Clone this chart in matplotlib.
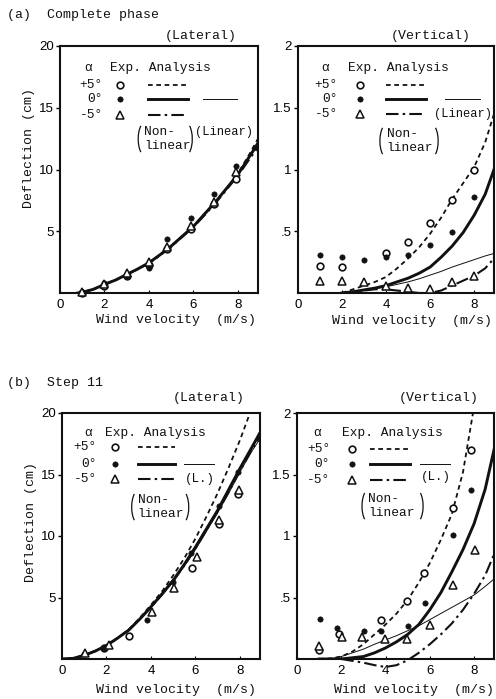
import matplotlib
matplotlib.use('Agg')
import matplotlib.pyplot as plt
from matplotlib.patches import Arc

MONO = 'Liberation Mono'
SANS = 'Liberation Sans'

# ---------------- data ----------------
# (a) complete phase, lateral
a_lat_exp_x = [1, 2, 3, 4, 4.8, 5.9, 6.9, 7.9]
a_lat_exp_p5 = [0.0, 0.6, 1.4, 2.3, 3.6, 5.2, 7.2, 9.2]
a_lat_exp_0 = [0.05, 0.8, 1.4, 2.0, 4.4, 6.1, 8.0, 10.3]
a_lat_exp_m5 = [0.1, 0.7, 1.65, 2.5, 3.7, 5.4, 7.4, 9.8]
a_lat_cx = [0.8, 1.0, 1.5, 2.0, 2.5, 3.0, 3.5, 4.0, 4.5, 5.0, 5.5, 6.0, 6.5, 7.0, 7.5, 8.0, 8.5, 8.9]
a_lat_nl_p5 = [0.0, 0.05, 0.3, 0.7, 1.05, 1.5, 1.95, 2.45, 3.1, 3.8, 4.6, 5.4, 6.4, 7.4, 8.5, 9.7, 11.2, 12.5]
a_lat_nl_0 = [0.0, 0.05, 0.3, 0.7, 1.05, 1.5, 1.95, 2.45, 3.1, 3.8, 4.6, 5.4, 6.4, 7.4, 8.5, 9.6, 11.0, 12.1]
a_lat_nl_m5 = [0.0, 0.05, 0.3, 0.7, 1.05, 1.5, 1.95, 2.4, 3.05, 3.75, 4.55, 5.35, 6.3, 7.3, 8.4, 9.5, 10.8, 11.8]
a_lat_lin = [0.0, 0.05, 0.3, 0.7, 1.05, 1.5, 1.95, 2.45, 3.1, 3.8, 4.6, 5.4, 6.4, 7.4, 8.5, 9.6, 11.1, 12.3]

# (a) complete phase, vertical
a_ver_exp_x = [1, 2, 3, 4, 5, 6, 7, 8]
a_ver_exp_p5_x = [1, 2, 4, 5, 6, 7, 8]
a_ver_exp_p5 = [0.22, 0.21, 0.32, 0.41, 0.57, 0.75, 1.0]
a_ver_exp_0 = [0.31, 0.29, 0.265, 0.29, 0.31, 0.39, 0.49, 0.78]
a_ver_exp_m5 = [0.10, 0.10, 0.09, 0.06, 0.044, 0.035, 0.09, 0.135]
a_ver_cx = [2.0, 2.5, 3.0, 3.5, 4.0, 4.5, 5.0, 5.5, 6.0, 6.5, 7.0, 7.5, 8.0, 8.5, 8.9]
a_ver_nl_p5 = [0.0, 0.03, 0.06, 0.09, 0.13, 0.2, 0.28, 0.37, 0.48, 0.61, 0.76, 0.89, 1.02, 1.22, 1.45]
a_ver_nl_0 = [0.0, 0.01, 0.025, 0.04, 0.06, 0.09, 0.12, 0.16, 0.21, 0.29, 0.38, 0.49, 0.63, 0.8, 1.0]
a_ver_nl_m5 = [0.0, 0.01, 0.02, 0.03, 0.03, 0.02, 0.01, 0.0, 0.0, 0.02, 0.06, 0.1, 0.14, 0.2, 0.28]
a_ver_lin = [0.0, 0.01, 0.02, 0.035, 0.05, 0.07, 0.09, 0.115, 0.145, 0.175, 0.21, 0.24, 0.27, 0.3, 0.32]

# (b) step 11, lateral
b_lat_exp_0_x = [1.0, 1.9, 3.8, 5.0, 5.8, 7.05, 7.9]
b_lat_exp_0 = [0.4, 0.9, 3.2, 6.3, 8.6, 12.4, 15.2]
b_lat_exp_p5_x = [1.9, 3.0, 5.85, 7.05, 7.9]
b_lat_exp_p5 = [0.9, 1.9, 7.4, 11.0, 13.4]
b_lat_exp_m5_x = [1.05, 2.1, 4.05, 5.05, 6.05, 7.05, 7.95]
b_lat_exp_m5 = [0.5, 1.1, 3.8, 5.8, 8.3, 11.3, 13.7]
b_lat_cx = [0.0, 0.5, 1.0, 1.5, 2.0, 2.5, 3.0, 3.5, 4.0, 4.5, 5.0, 5.5, 6.0, 6.5, 7.0, 7.5, 8.0, 8.5, 8.9]
b_lat_nl_0 = [0.0, 0.05, 0.3, 0.65, 1.1, 1.7, 2.35, 3.25, 4.25, 5.3, 6.4, 7.7, 9.1, 10.6, 12.1, 13.8, 15.5, 17.1, 18.4]
b_lat_nl_m5 = [0.0, 0.05, 0.3, 0.65, 1.1, 1.7, 2.35, 3.25, 4.2, 5.25, 6.35, 7.6, 9.0, 10.5, 12.0, 13.6, 15.3, 16.9, 18.1]
b_lat_lin = [0.0, 0.05, 0.3, 0.65, 1.1, 1.7, 2.35, 3.2, 4.2, 5.2, 6.3, 7.55, 8.9, 10.4, 11.9, 13.5, 15.2, 16.8, 17.9]
b_lat_p5_cx = [0.0, 0.5, 1.0, 1.5, 2.0, 2.5, 3.0, 3.5, 4.0, 4.5, 5.0, 5.5, 6.0, 6.5, 7.0, 7.5, 8.0, 8.45]
b_lat_nl_p5 = [0.0, 0.05, 0.3, 0.65, 1.1, 1.7, 2.4, 3.35, 4.4, 5.5, 6.8, 8.2, 9.8, 11.6, 13.5, 15.6, 17.8, 20.0]

# (b) step 11, vertical
b_ver_exp_0_x = [1.02, 1.82, 3.02, 3.8, 5.0, 5.78, 7.04, 7.87]
b_ver_exp_0 = [0.325, 0.25, 0.23, 0.23, 0.27, 0.455, 1.01, 1.375]
b_ver_exp_p5_x = [0.98, 1.88, 3.8, 4.97, 5.75, 7.04, 7.84]
b_ver_exp_p5 = [0.07, 0.205, 0.32, 0.47, 0.70, 1.23, 1.70]
b_ver_exp_m5_x = [0.98, 2.03, 2.93, 3.98, 4.97, 6.02, 7.03, 8.06]
b_ver_exp_m5 = [0.108, 0.18, 0.18, 0.165, 0.165, 0.28, 0.60, 0.89]
b_ver_cx = [1.0, 1.5, 2.0, 2.5, 3.0, 3.5, 4.0, 4.5, 5.0, 5.5, 6.0, 6.5, 7.0, 7.5, 8.0, 8.5, 8.9]
b_ver_nl_0 = [0.0, 0.0, 0.0, 0.01, 0.02, 0.05, 0.09, 0.14, 0.2, 0.28, 0.4, 0.54, 0.71, 0.89, 1.1, 1.38, 1.7]
b_ver_lin = [0.0, 0.0, 0.02, 0.05, 0.08, 0.12, 0.155, 0.19, 0.23, 0.27, 0.32, 0.37, 0.42, 0.47, 0.52, 0.59, 0.65]
b_ver_nl_m5_x = [2.0, 2.5, 3.0, 3.5, 4.0, 4.5, 5.0, 5.5, 6.0, 6.5, 7.0, 7.5, 8.0, 8.5, 8.9]
b_ver_nl_m5 = [0.0, -0.015, -0.03, -0.05, -0.065, -0.05, -0.01, 0.05, 0.12, 0.2, 0.29, 0.4, 0.53, 0.68, 0.85]
b_ver_p5_cx = [1.0, 1.5, 2.0, 2.5, 3.0, 3.5, 4.0, 4.5, 5.0, 5.5, 6.0, 6.5, 7.0, 7.5, 7.95]
b_ver_nl_p5 = [0.0, 0.005, 0.02, 0.06, 0.12, 0.2, 0.28, 0.37, 0.48, 0.62, 0.78, 0.97, 1.18, 1.52, 2.0]

lat_yticks = [5, 10, 15, 20]
lat_ylabels = ['5', '10', '15', '20']
ver_yticks = [0.5, 1, 1.5, 2]
ver_ylabels = ['.5', '1', '1.5', '2']
xticks = [0, 2, 4, 6, 8]
xlabels = ['0', '2', '4', '6', '8']

# ---------------- styles ----------------
INK = '#111111'
STY = {
    'p5': dict(ls=(0, (2.6, 2.0)), lw=1.3, color=INK),
    '0': dict(ls='-', lw=2.1, color=INK),
    'm5': dict(ls=(0, (6, 2, 1.2, 2)), lw=1.5, color=INK),
    'lin': dict(ls='-', lw=0.7, color=INK),
}
MK = {
    'p5': dict(marker='o', ms=4.8, mfc='white', mec=INK, mew=1.2, ls='none'),
    '0': dict(marker='o', ms=3.8, mfc=INK, mec=INK, mew=0.5, ls='none'),
    'm5': dict(marker='^', ms=5.4, mfc='white', mec=INK, mew=1.1, ls='none'),
}

W, H = 496, 699
fig = plt.figure(figsize=(W / 100, H / 100), dpi=100)
fig.patch.set_facecolor('white')


def ax_at(l, t, w, h):
    return fig.add_axes([l / W, 1 - (t + h) / H, w / W, h / H])


def ftext(px, py, s, **kw):
    fig.text(px / W, 1 - py / H, s, fontfamily=MONO, fontsize=9.5, color=INK, **kw)


def style_axes(ax, ylim, yt, yl):
    ax.set_xlim(0, 8.9)
    ax.set_ylim(*ylim)
    ax.set_xticks(xticks)
    ax.set_xticklabels(xlabels)
    ax.set_yticks(yt)
    ax.set_yticklabels(yl)
    for s in ax.spines.values():
        s.set_linewidth(1.5)
        s.set_color(INK)
    ax.tick_params(axis='y', direction='out', length=3, width=1, pad=1.5, labelsize=9.5)
    ax.tick_params(axis='x', direction='in', length=2, width=0.8, pad=4, labelsize=9.5)
    for lab in ax.get_xticklabels() + ax.get_yticklabels():
        lab.set_fontfamily(SANS)


def draw_legend(ax, c):
    T = ax.transAxes
    kw = dict(transform=T, fontfamily=MONO, fontsize=9.3, va='center', color=INK)
    y = c['y']
    ax.text(c['xa'], y[0], 'α', ha='center', **kw)
    ax.text(c['xe'], y[0], 'Exp. Analysis', ha='left', **kw)
    for lab, yy in zip(['+5°', '0°', '-5°'], y[1:]):
        ax.text(c['xr'], yy, lab, ha='right', **kw)
    for key, yy in zip(['p5', '0', 'm5'], y[1:]):
        ax.plot([c['xm']], [yy], transform=T, clip_on=False, **MK[key])
        ax.plot([c['l0'], c['l1']], [yy, yy], transform=T, clip_on=False, **STY[key])
    ax.plot([c['t0'], c['t1']], [y[2], y[2]], transform=T, clip_on=False, **STY['lin'])
    ax.text(c['nx'], c['ny'][0], 'Non-', ha='left', **kw)
    ax.text(c['nx'], c['ny'][1], 'linear', ha='left', **kw)
    my = (c['ny'][0] + c['ny'][1]) / 2
    bw, bh = 0.07, 0.135
    ax.add_patch(Arc((c['b0'] + bw / 2, my), bw, bh, theta1=112, theta2=248,
                     transform=T, lw=0.9, color=INK, clip_on=False))
    ax.add_patch(Arc((c['b1'] - bw / 2, my), bw, bh, theta1=-68, theta2=68,
                     transform=T, lw=0.9, color=INK, clip_on=False))
    ax.text(c['ex'], c['ey'], c['etext'], ha=c.get('eha', 'left'),
            **dict(kw, fontsize=c.get('efs', 9.0)))


# ---------------- (a) lateral ----------------
ax1 = ax_at(60, 46, 198, 247)
ax1.plot(a_lat_cx, a_lat_nl_p5, **STY['p5'])
ax1.plot(a_lat_cx, a_lat_nl_0, **STY['0'])
ax1.plot(a_lat_cx, a_lat_nl_m5, **STY['m5'])
ax1.plot(a_lat_cx, a_lat_lin, **STY['lin'])
ax1.plot(a_lat_exp_x, a_lat_exp_p5, zorder=5, clip_on=False, **MK['p5'])
ax1.plot(a_lat_exp_x, a_lat_exp_0, zorder=5, clip_on=False, **MK['0'])
ax1.plot(a_lat_exp_x, a_lat_exp_m5, zorder=5, clip_on=False, **MK['m5'])
style_axes(ax1, (0, 20), lat_yticks, lat_ylabels)
draw_legend(ax1, dict(y=[0.911, 0.842, 0.785, 0.72], xa=0.14, xe=0.253, xr=0.217, xm=0.303,
                      l0=0.444, l1=0.646, t0=0.722, t1=0.894, nx=0.425, ny=[0.652, 0.595],
                      b0=0.395, b1=0.668, ex=0.68, ey=0.652, etext='(Linear)', efs=8.7))

# ---------------- (a) vertical ----------------
ax2 = ax_at(298, 46, 196, 247)
ax2.plot(a_ver_cx, a_ver_nl_p5, **STY['p5'])
ax2.plot(a_ver_cx, a_ver_nl_0, **STY['0'])
ax2.plot(a_ver_cx, a_ver_nl_m5, **STY['m5'])
ax2.plot(a_ver_cx, a_ver_lin, **STY['lin'])
ax2.plot(a_ver_exp_p5_x, a_ver_exp_p5, zorder=5, **MK['p5'])
ax2.plot(a_ver_exp_x, a_ver_exp_0, zorder=5, **MK['0'])
ax2.plot(a_ver_exp_x, a_ver_exp_m5, zorder=5, **MK['m5'])
style_axes(ax2, (0, 2), ver_yticks, ver_ylabels)
draw_legend(ax2, dict(y=[0.911, 0.842, 0.785, 0.725], xa=0.138, xe=0.255, xr=0.204, xm=0.316,
                      l0=0.449, l1=0.653, t0=0.75, t1=0.929, nx=0.452, ny=[0.644, 0.587],
                      b0=0.418, b1=0.715, ex=0.694, ey=0.725, etext='(Linear)', efs=8.7))

# ---------------- (b) lateral ----------------
ax3 = ax_at(62, 413, 198, 246)
ax3.plot(b_lat_p5_cx, b_lat_nl_p5, **STY['p5'])
ax3.plot(b_lat_cx, b_lat_nl_0, **STY['0'])
ax3.plot(b_lat_cx, b_lat_nl_m5, **STY['m5'])
ax3.plot(b_lat_cx, b_lat_lin, **STY['lin'])
ax3.plot(b_lat_exp_p5_x, b_lat_exp_p5, zorder=5, **MK['p5'])
ax3.plot(b_lat_exp_0_x, b_lat_exp_0, zorder=5, **MK['0'])
ax3.plot(b_lat_exp_m5_x, b_lat_exp_m5, zorder=5, **MK['m5'])
style_axes(ax3, (0, 20), lat_yticks, lat_ylabels)
draw_legend(ax3, dict(y=[0.919, 0.862, 0.793, 0.732], xa=0.131, xe=0.217, xr=0.177, xm=0.268,
                      l0=0.384, l1=0.571, t0=0.616, t1=0.768, nx=0.382, ny=[0.646, 0.589],
                      b0=0.352, b1=0.64, ex=0.697, ey=0.732, etext='(L.)', eha='center'))

# ---------------- (b) vertical ----------------
ax4 = ax_at(297, 413, 197, 246)
ax4.plot(b_ver_p5_cx, b_ver_nl_p5, **STY['p5'])
ax4.plot(b_ver_cx, b_ver_nl_0, **STY['0'])
ax4.plot(b_ver_nl_m5_x, b_ver_nl_m5, clip_on=False, **STY['m5'])
ax4.plot(b_ver_cx, b_ver_lin, **STY['lin'])
ax4.plot(b_ver_exp_p5_x, b_ver_exp_p5, zorder=5, **MK['p5'])
ax4.plot(b_ver_exp_0_x, b_ver_exp_0, zorder=5, **MK['0'])
ax4.plot(b_ver_exp_m5_x, b_ver_exp_m5, zorder=5, **MK['m5'])
style_axes(ax4, (0, 2), ver_yticks, ver_ylabels)
draw_legend(ax4, dict(y=[0.919, 0.854, 0.793, 0.728], xa=0.102, xe=0.228, xr=0.168, xm=0.279,
                      l0=0.371, l1=0.574, t0=0.624, t1=0.777, nx=0.36, ny=[0.65, 0.593],
                      b0=0.33, b1=0.64, ex=0.706, ey=0.74, etext='(L.)', eha='center'))

# ---------------- figure texts ----------------
ftext(7, 15, '(a)  Complete phase', ha='left', va='center')
ftext(201, 36, '(Lateral)', ha='center', va='center')
ftext(431, 36, '(Vertical)', ha='center', va='center')
ftext(29, 148, 'Deflection (cm)', ha='center', va='center', rotation=90)
ftext(176, 320, 'Wind velocity  (m/s)', ha='center', va='center')
ftext(412, 321, 'Wind velocity  (m/s)', ha='center', va='center')

ftext(7, 383, '(b)  Step 11', ha='left', va='center')
ftext(209, 398, '(Lateral)', ha='center', va='center')
ftext(439, 398, '(Vertical)', ha='center', va='center')
ftext(31, 522, 'Deflection (cm)', ha='center', va='center', rotation=90)
ftext(176, 690, 'Wind velocity  (m/s)', ha='center', va='center')
ftext(414, 690, 'Wind velocity  (m/s)', ha='center', va='center')

fig.savefig('out.png', dpi=100, facecolor='white')
